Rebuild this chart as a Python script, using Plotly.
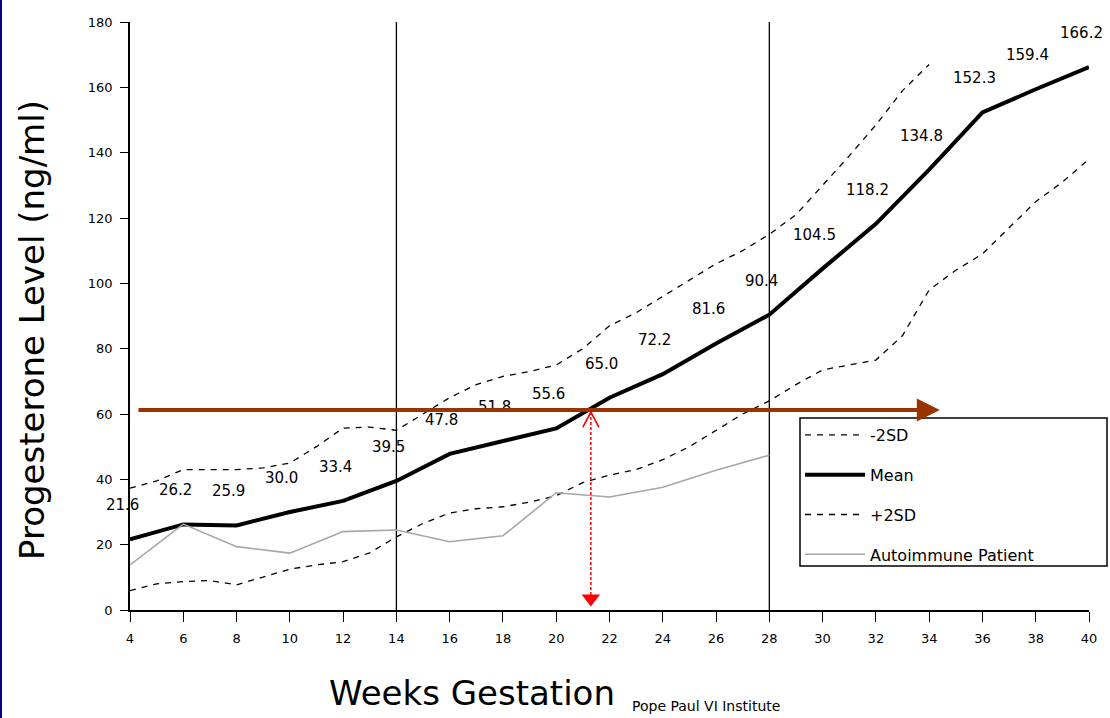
import plotly.graph_objects as go

# ---------------- data ----------------
MEAN_WEEKS = [4, 6, 8, 10, 12, 14, 16, 18, 20, 22, 24, 26, 28, 30, 32, 34, 36, 38, 40]
MEAN_VALUES = [21.6, 26.2, 25.9, 30.0, 33.4, 39.5, 47.8, 51.8, 55.6, 65.0,
               72.2, 81.6, 90.4, 104.5, 118.2, 134.8, 152.3, 159.4, 166.2]

UPPER_WEEKS = list(range(4, 35))
UPPER_VALUES = [37.3, 39.5, 43, 43, 43, 43.5, 45, 50, 55.7, 56, 55, 60, 65, 69, 71.5,
                73, 75, 80, 87, 91, 96, 101, 106, 110, 115, 121, 130, 139, 148.5, 159, 167]

LOWER_WEEKS = list(range(4, 41))
LOWER_VALUES = [5.9, 8, 8.7, 9, 7.7, 10, 12.5, 13.8, 14.8, 17.5, 22.4, 26.5, 29.7, 31,
                31.6, 33, 35, 39, 41.3, 43, 46, 50, 55, 60, 64, 69, 73.5, 75, 76.5, 84,
                98, 104, 109, 117, 125, 131, 138]

PATIENT_WEEKS = [4, 6, 8, 10, 12, 14, 16, 18, 20, 22, 24, 26, 28]
PATIENT_VALUES = [13.8, 26.3, 19.4, 17.4, 24.0, 24.5, 20.9, 22.7, 35.9, 34.6, 37.6, 42.8, 47.4]

TRIMESTER_WEEKS = [14, 28]
X_TICKS = list(range(4, 41, 2))
Y_TICKS = list(range(0, 181, 20))

# reference arrows
LEVEL_VALUE = 61.2
LEVEL_START, LEVEL_END = 4.26, 34.4
CROSS_WEEK = 21.3
CROSS_TOP, CROSS_BOTTOM = 60.6, 3.5

FONT = "DejaVu Sans"

# pixel -> paper helpers (plot area: x 130..1089, y 22..610)
def px(xpix):
    return (xpix - 130) / 959


def py(ypix):
    return (610 - ypix) / 588


fig = go.Figure()

fig.add_trace(go.Scatter(x=UPPER_WEEKS, y=UPPER_VALUES, mode="lines", name="-2SD",
                         legendgroup="a",
                         line=dict(color="black", width=1.3, dash="6px,6px")))
fig.add_trace(go.Scatter(x=MEAN_WEEKS, y=MEAN_VALUES, mode="lines", name="Mean",
                         legendgroup="b",
                         line=dict(color="black", width=4)))
fig.add_trace(go.Scatter(x=LOWER_WEEKS, y=LOWER_VALUES, mode="lines", name="+2SD",
                         legendgroup="c",
                         line=dict(color="black", width=1.3, dash="6px,6px")))
fig.add_trace(go.Scatter(x=PATIENT_WEEKS, y=PATIENT_VALUES, mode="lines",
                         name="Autoimmune Patient", legendgroup="d",
                         line=dict(color="#a6a6a6", width=1.6)))

# red dotted vertical arrow
fig.add_trace(go.Scatter(x=[CROSS_WEEK, CROSS_WEEK], y=[CROSS_TOP, CROSS_BOTTOM],
                         mode="lines", showlegend=False, hoverinfo="skip",
                         line=dict(color="red", width=1.5, dash="3px,2px")))
fig.add_trace(go.Scatter(x=[CROSS_WEEK], y=[CROSS_BOTTOM], mode="markers",
                         showlegend=False, hoverinfo="skip",
                         marker=dict(symbol="triangle-down", size=16, color="red")))

shapes = []
for w in TRIMESTER_WEEKS:
    shapes.append(dict(type="line", xref="x", yref="y", x0=w, x1=w, y0=0, y1=180,
                       line=dict(color="black", width=1.3), layer="below"))
# open head at the top of the red arrow
shapes.append(dict(type="path", xref="x", yref="y", xsizemode="pixel", ysizemode="pixel",
                   xanchor=CROSS_WEEK, yanchor=CROSS_TOP,
                   path="M-8,-15 L0,0 L8,-15", line=dict(color="red", width=1.6)))
# navy left border of the slide
shapes.append(dict(type="rect", xref="paper", yref="paper",
                   x0=px(0), x1=px(2), y0=py(718), y1=py(0),
                   fillcolor="#000080", line=dict(width=0)))
# legend frame
shapes.append(dict(type="rect", xref="paper", yref="paper",
                   x0=px(800), x1=px(1107), y0=py(566), y1=py(418),
                   fillcolor="white", line=dict(color="black", width=1.5), layer="above"))

annotations = []
for w, v in zip(MEAN_WEEKS, MEAN_VALUES):
    annotations.append(dict(x=w, y=v, text=f"{v:.1f}", showarrow=False,
                            xshift=-8, yshift=34, xanchor="center", yanchor="middle",
                            font=dict(family=FONT, size=15, color="black")))

# brown level arrow
annotations.append(dict(x=LEVEL_END, y=LEVEL_VALUE, ax=LEVEL_START, ay=LEVEL_VALUE,
                        xref="x", yref="y", axref="x", ayref="y", text="",
                        showarrow=True, arrowhead=2, arrowsize=1.15, arrowwidth=4,
                        arrowcolor="#993300"))

annotations.append(dict(text="Progesterone Level (ng/ml)", xref="paper", yref="paper",
                        x=px(32), y=py(330), textangle=-90, showarrow=False,
                        xanchor="center", yanchor="middle",
                        font=dict(family=FONT, size=34, color="black")))
annotations.append(dict(text="Weeks Gestation", xref="paper", yref="paper",
                        x=px(472), y=py(693), showarrow=False,
                        xanchor="center", yanchor="middle",
                        font=dict(family=FONT, size=34, color="black")))
annotations.append(dict(text="Pope Paul VI Institute", xref="paper", yref="paper",
                        x=px(630), y=py(716), xanchor="left",
                        yanchor="bottom", showarrow=False,
                        font=dict(family=FONT, size=14, color="black")))

fig.update_layout(
    width=1110, height=718,
    margin=dict(l=130, r=21, t=22, b=108),
    paper_bgcolor="white", plot_bgcolor="white",
    shapes=shapes, annotations=annotations,
    xaxis=dict(range=[4, 40], tickvals=X_TICKS, ticks="outside", ticklen=10,
               tickcolor="black", tickwidth=1.3, showline=True, linecolor="black",
               linewidth=1.5, showgrid=False, zeroline=False, ticklabelstandoff=6,
               tickfont=dict(family=FONT, size=13, color="black")),
    yaxis=dict(range=[0, 180], tickvals=Y_TICKS, ticks="outside", ticklen=8,
               tickcolor="black", tickwidth=1.3, showline=True, linecolor="black",
               linewidth=1.5, showgrid=False, zeroline=False, ticklabelstandoff=5,
               tickfont=dict(family=FONT, size=13, color="black")),
    legend=dict(x=px(800), y=py(418), xanchor="left", yanchor="top",
                bgcolor="rgba(0,0,0,0)", borderwidth=0,
                font=dict(family=FONT, size=16, color="black"),
                traceorder="grouped", tracegroupgap=16, itemwidth=60),
    showlegend=True,
)

fig.write_html("out.html", post_script="document.body.style.margin='0px';",
               config={"displayModeBar": False})
